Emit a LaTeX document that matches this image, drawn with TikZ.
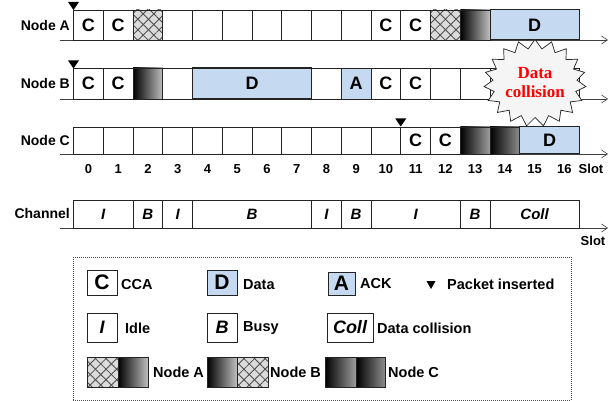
\documentclass[tikz,border=0pt]{standalone}
\usepackage{fontspec}
\setmainfont{Liberation Sans}
\newfontfamily\serifbf{Liberation Serif}
\usetikzlibrary{arrows.meta,patterns.meta,shadows,shapes.symbols}
\definecolor{datablue}{RGB}{197,217,241}
\definecolor{edge}{RGB}{35,35,35}
\newcommand\fsz[1]{\fontsize{#1}{#1}\selectfont}
% #1 name, #2 first slot, #3 number of slots, #4 centre y, #5 height, #6 style, #7 text
\newcommand\slt[7]{\node[slotbox,#6,minimum width={#3*29.75pt},minimum height={#5pt},anchor=west] (#1) at ({73.5+29.75*#2},#4) {#7};}
\begin{document}
\begin{tikzpicture}[x=1pt,y=-1pt,
  slotbox/.style={draw=edge,line width=0.8pt,inner sep=0pt,outer sep=0pt,font=\bfseries\fsz{18}},
  chanbox/.style={font=\bfseries\itshape\fsz{15}},
  datacell/.style={fill=datablue},
  grad/.style={left color=black,right color=#1},
  grad/.default=black!25,
  crossx/.style={preaction={fill=gray!28},
    preaction={pattern={Lines[angle=45,distance=7.5pt,line width=0.85pt]},pattern color=black!70},
    pattern={Lines[angle=-45,distance=7.5pt,line width=0.85pt]},pattern color=black!70},
  rowlab/.style={anchor=east,inner sep=1pt,font=\bfseries\fsz{14}},
  numlab/.style={inner sep=0pt,font=\bfseries\fsz{13}},
  axisline/.style={draw=black!75,line width=0.6pt,-{Straight Barb[length=6pt,width=8pt]}},
  marker/.style={fill=black},
  legbox/.style={draw=edge,line width=0.8pt,fill=white,inner sep=0pt,outer sep=0pt,
    drop shadow={shadow xshift=1.3pt,shadow yshift=-1.3pt,fill=black!60,opacity=1}},
  legtxt/.style={anchor=west,inner sep=0pt,font=\bfseries\fsz{14.5}},
  legplain/.style={draw=edge,line width=0.8pt,inner sep=0pt,outer sep=0pt,minimum height=30pt},
]
\useasboundingbox (0,0) rectangle (616,401);

% ---------- axes ----------
\coordinate (axAs) at (60,40);  \coordinate (axAe) at (608,40);
\coordinate (axBs) at (60,99);  \coordinate (axBe) at (608,99);
\coordinate (axCs) at (60,154); \coordinate (axCe) at (608,154);
\coordinate (axHs) at (60,228); \coordinate (axHe) at (608,228);
\draw[axisline] (axAs) -- (axAe);
\draw[axisline] (axBs) -- (axBe);
\draw[axisline] (axCs) -- (axCe);
\draw[axisline] (axHs) -- (axHe);

% ---------- Node A ----------
\node[rowlab] (labA) at (71,25) {Node A};
\slt{a0}{0}{1}{25}{30}{}{C}
\slt{a1}{1}{1}{25}{30}{}{C}
\slt{a2}{2}{1}{25}{30}{crossx}{}
\foreach \i in {3,...,9} {\slt{a\i}{\i}{1}{25}{30}{}{}}
\slt{a10}{10}{1}{25}{30}{}{C}
\slt{a11}{11}{1}{25}{30}{}{C}
\slt{a12}{12}{1}{25}{30}{crossx}{}
\slt{a13}{13}{1}{25}{30}{grad}{}
\slt{a14}{14}{3}{25}{30}{datacell,line width=1pt}{D}

% ---------- Node B ----------
\node[rowlab] (labB) at (71,83) {Node B};
\slt{b0}{0}{1}{83.5}{31}{}{C}
\slt{b1}{1}{1}{83.5}{31}{}{C}
\slt{b2}{2}{1}{83.5}{31}{grad}{}
\slt{b3}{3}{1}{83.5}{31}{}{}
\slt{b4}{4}{4}{83.5}{31}{datacell,line width=1.1pt}{D}
\slt{b8}{8}{1}{83.5}{31}{}{}
\slt{b9}{9}{1}{83.5}{31}{datacell}{A}
\slt{b10}{10}{1}{83.5}{31}{}{C}
\slt{b11}{11}{1}{83.5}{31}{}{C}
\foreach \i in {12,...,16} {\slt{b\i}{\i}{1}{83.5}{31}{}{}}

% ---------- Node C ----------
\node[rowlab] (labC) at (71,140.5) {Node C};
\foreach \i in {0,...,10} {\slt{c\i}{\i}{1}{140.5}{27}{}{}}
\slt{c11}{11}{1}{140.5}{27}{}{C}
\slt{c12}{12}{1}{140.5}{27}{}{C}
\slt{c13}{13}{1}{140.5}{27}{grad=black!38}{}
\slt{c14}{14}{1}{140.5}{27}{grad=black!45}{}
\slt{c15}{15}{2}{140.5}{27}{datacell,line width=1pt}{D}

% ---------- packet-inserted markers ----------
\fill[marker] (68,2) -- (79,2) -- (73.5,10) -- cycle;
\fill[marker] (68,60.5) -- (79,60.5) -- (73.5,68.5) -- cycle;
\fill[marker] (395.25,118.5) -- (406.25,118.5) -- (400.75,126.5) -- cycle;

% ---------- slot numbers ----------
\foreach \i in {0,...,16} {\node[numlab] (n\i) at ({88.4+29.75*\i},169) {\i};}
\node[numlab] (slotC) at (591,169) {Slot};

% ---------- Channel ----------
\node[rowlab] (labH) at (71,213) {Channel};
\slt{h0}{0}{2}{214}{28}{chanbox}{I}
\slt{h2}{2}{1}{214}{28}{chanbox}{B}
\slt{h3}{3}{1}{214}{28}{chanbox}{I}
\slt{h4}{4}{4}{214}{28}{chanbox}{B}
\slt{h8}{8}{1}{214}{28}{chanbox}{I}
\slt{h9}{9}{1}{214}{28}{chanbox}{B}
\slt{h10}{10}{3}{214}{28}{chanbox}{I}
\slt{h13}{13}{1}{214}{28}{chanbox}{B}
\slt{h14}{14}{3}{214}{28}{chanbox}{Coll}
\node[numlab] (slotH) at (593,241) {Slot};

% ---------- collision burst ----------
\node[starburst,draw=edge,line width=0.7pt,fill=gray!8,starburst points=19,
  starburst point height=9pt,random starburst=0,minimum width=90pt,minimum height=87pt,
  inner sep=0pt,align=center,text=red,font=\serifbf\bfseries\fontsize{17}{19}\selectfont]
  (burst) at (535,83) {Data\\collision};

% ---------- legend ----------
\node[draw=black!70,line width=0.6pt,dash pattern=on 1pt off 1pt,minimum width=498pt,
  minimum height=142.5pt,anchor=north west,inner sep=0pt] (legend) at (73,257) {};

\node[legbox,minimum width=30pt,minimum height=25pt,font=\bfseries\fsz{21}] (lgC) at (102,282.5) {C};
\node[legtxt] (tC) at (121,284.5) {CCA};
\node[legbox,datacell,minimum width=30pt,minimum height=25pt,font=\bfseries\fsz{21}] (lgD) at (222,282.5) {D};
\node[legtxt] (tD) at (243,284.5) {Data};
\node[legbox,datacell,minimum width=27pt,minimum height=23pt,font=\bfseries\fsz{21}] (lgA) at (341.5,283.5) {A};
\node[legtxt] (tA) at (360,284) {ACK};
\fill[marker] (426.5,281) -- (435.5,281) -- (431,289) -- cycle;
\node[legtxt] (tP) at (447,284.5) {Packet inserted};

\node[legbox,minimum width=30pt,minimum height=29pt,font=\bfseries\itshape\fsz{18}] (lgI) at (102,327.5) {I};
\node[legtxt] (tI) at (125,328) {Idle};
\node[legbox,minimum width=30pt,minimum height=29pt,font=\bfseries\itshape\fsz{18}] (lgB) at (222,327.5) {B};
\node[legtxt] (tB) at (243,328) {Busy};
\node[legbox,minimum width=46pt,minimum height=29pt,font=\bfseries\itshape\fsz{18}] (lgL) at (350,327.5) {Coll};
\node[legtxt] (tL) at (377,328) {Data collision};

\node[legplain,crossx,minimum width=31pt] (lgA1) at (102.5,372) {};
\node[legplain,grad,minimum width=30pt] (lgA2) at (133,372) {};
\node[legtxt] (tNA) at (153,372) {Node A};
\node[legplain,grad,minimum width=30pt] (lgB1) at (222,372) {};
\node[legplain,crossx,minimum width=31pt] (lgB2) at (252.5,372) {};
\node[legtxt] (tNB) at (270,372) {Node B};
\node[legplain,grad=black!38,minimum width=31pt] (lgC1) at (340.5,372) {};
\node[legplain,grad=black!45,minimum width=29pt] (lgC2) at (370.5,372) {};
\node[legtxt] (tNC) at (388,372) {Node C};
\end{tikzpicture}
\end{document}
